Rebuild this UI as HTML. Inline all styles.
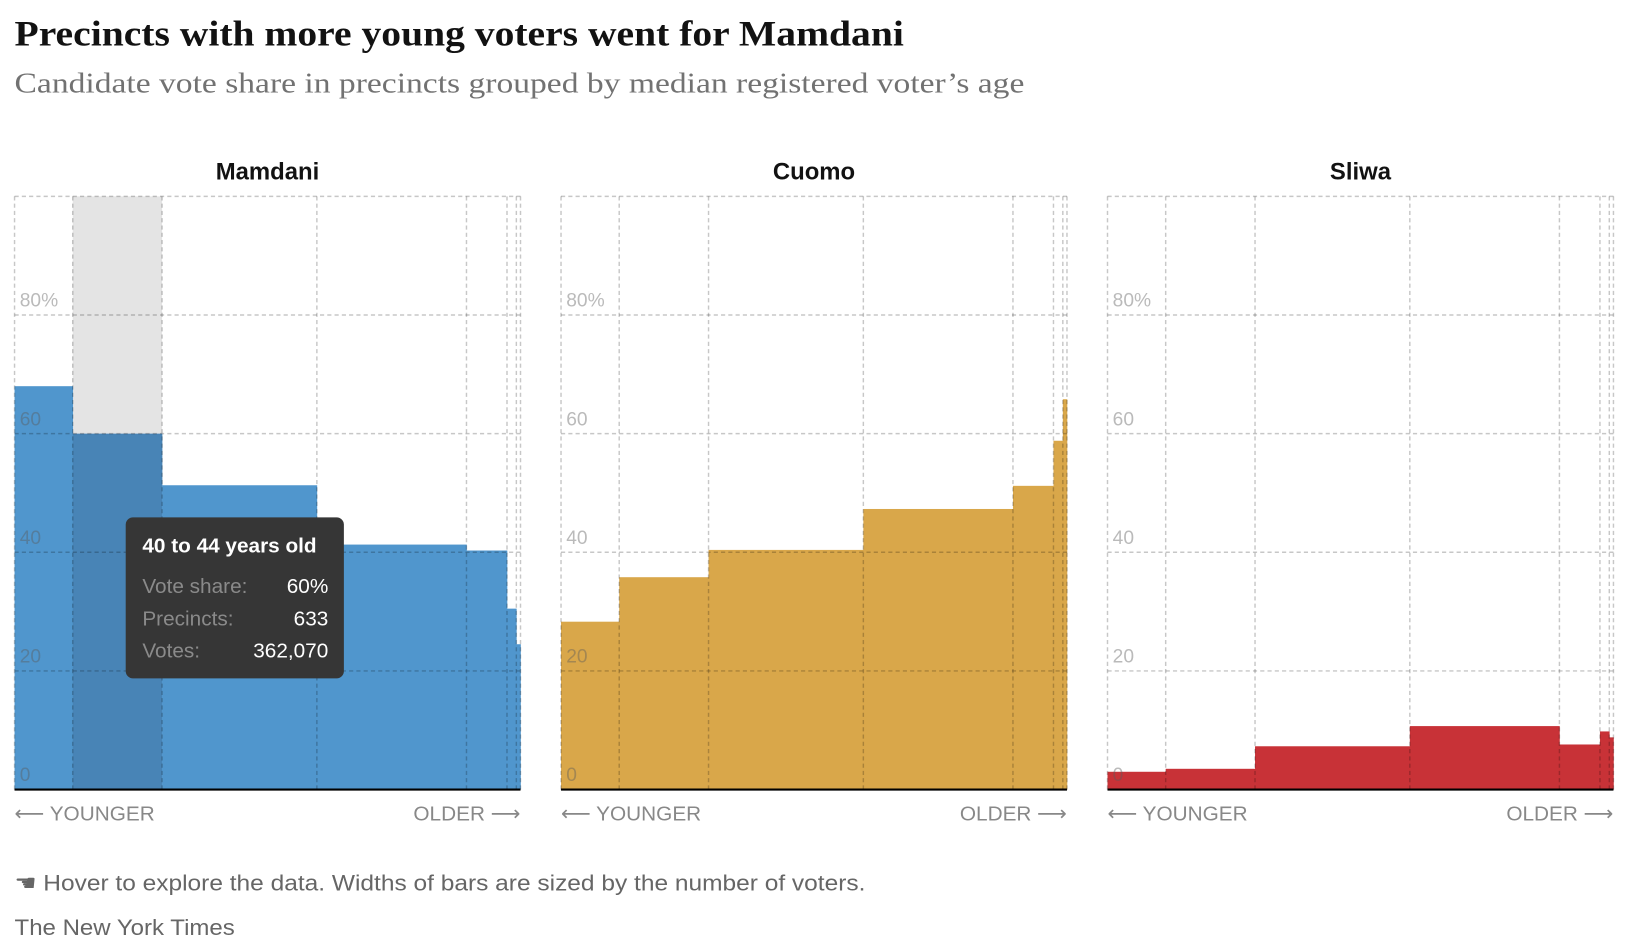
<!DOCTYPE html>
<html><head><meta charset="utf-8">
<style>
html,body{margin:0;padding:0;background:#fff;width:1628px;height:948px;overflow:hidden}
svg{display:block}
</style></head><body>
<svg width="1628" height="948" viewBox="0 0 1567 912.5" preserveAspectRatio="none" xmlns="http://www.w3.org/2000/svg">
<text x="14" y="44" font-family="Liberation Serif, serif" font-weight="bold" font-size="35" fill="#121212" textLength="856" lengthAdjust="spacingAndGlyphs">Precincts with more young voters went for Mamdani</text>
<text x="14" y="89" font-family="Liberation Serif, serif" font-size="27" fill="#727272" textLength="972" lengthAdjust="spacingAndGlyphs">Candidate vote share in precincts grouped by median registered voter’s age</text>

<g id="panels"></g>

<text x="14" y="857" font-family="Liberation Sans, sans-serif" font-size="21.5" fill="#666" textLength="819" lengthAdjust="spacingAndGlyphs">☚ Hover to explore the data. Widths of bars are sized by the number of voters.</text>
<text x="14" y="900" font-family="Liberation Sans, sans-serif" font-size="21.5" fill="#666" textLength="212" lengthAdjust="spacingAndGlyphs">The New York Times</text>
<script>
(function(){
var ns="http://www.w3.org/2000/svg";
var g=document.getElementById('panels');
function el(t,a,txt){var e=document.createElementNS(ns,t);for(var k in a)e.setAttribute(k,a[k]);if(txt!=null)e.textContent=txt;g.appendChild(e);return e;}
var xs=[0,56,142,291,435,474,483,487];
var top=189,base=760,pp=5.71;
var panels=[
 {x0:14,name:"Mamdani",c:"#5096cd",v:[68,60,51.3,41.3,40.3,30.5,24.5]},
 {x0:540,name:"Cuomo",c:"#d9a74a",v:[28.3,35.8,40.4,47.3,51.2,58.8,65.8]},
 {x0:1066,name:"Sliwa",c:"#c83237",v:[3,3.5,7.3,10.7,7.6,9.8,8.8]}
];
panels.forEach(function(p,pi){
 var x0=p.x0;
 el('text',{x:x0+243.5,y:173,'text-anchor':'middle','font-family':'Liberation Sans, sans-serif','font-weight':'bold','font-size':23,fill:'#121212'},p.name);
 if(pi==0){
  el('rect',{x:x0+xs[1],y:top,width:xs[2]-xs[1],height:base-top,fill:'#e4e4e4'});
 }
 for(var i=0;i<7;i++){
  var y=base-p.v[i]*pp;
  var col=(pi==0&&i==1)?'#4884b6':p.c;
  el('rect',{x:x0+xs[i],y:y,width:xs[i+1]-xs[i]+0.3,height:base-y,fill:col});
 }
 for(var k=1;k<=5;k++){
  var y=base-k*20*pp;
  el('line',{x1:x0,x2:x0+487,y1:y,y2:y,stroke:'rgba(0,0,0,0.22)','stroke-width':1.4,'stroke-dasharray':'4,3'});
 }
 xs.forEach(function(xx){
  el('line',{x1:x0+xx,x2:x0+xx,y1:top,y2:base,stroke:'rgba(0,0,0,0.22)','stroke-width':1.4,'stroke-dasharray':'4,3'});
 });
 var labs=['0','20','40','60','80%'];
 for(var k=0;k<5;k++){
  el('text',{x:x0+5,y:base-k*20*pp-8,'font-family':'Liberation Sans, sans-serif','font-size':18.5,fill:'rgba(90,90,90,0.42)'},labs[k]);
 }
 el('line',{x1:x0,x2:x0+487,y1:base,y2:base,stroke:'#000','stroke-width':2});
 el('text',{x:x0,y:790,'font-family':'Liberation Sans, DejaVu Sans, sans-serif','font-size':20,fill:'#888'},'⟵ YOUNGER');
 el('text',{x:x0+487,y:790,'text-anchor':'end','font-family':'Liberation Sans, DejaVu Sans, sans-serif','font-size':20,fill:'#888'},'OLDER ⟶');
});
el('rect',{x:121,y:498,width:210,height:155,rx:7,fill:'#363636'});
el('text',{x:137,y:532,'font-family':'Liberation Sans, sans-serif','font-weight':'bold','font-size':20,fill:'#fff'},'40 to 44 years old');
var rows=[['Vote share:','60%',571],['Precincts:','633',602],['Votes:','362,070',633]];
rows.forEach(function(r){
 el('text',{x:137,y:r[2],'font-family':'Liberation Sans, sans-serif','font-size':20,fill:'#8a8a8a'},r[0]);
 el('text',{x:316,y:r[2],'text-anchor':'end','font-family':'Liberation Sans, sans-serif','font-size':20,fill:'#fff'},r[1]);
});
})();
</script>
</svg>
</body></html>
